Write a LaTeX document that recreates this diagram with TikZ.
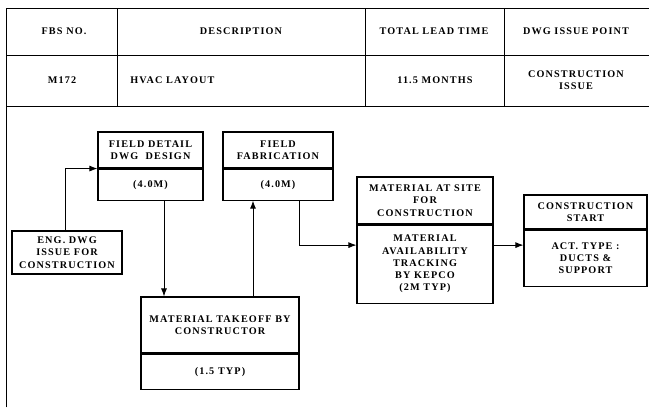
\documentclass[tikz,border=0pt]{standalone}
\usepackage{fontspec}
\setmainfont{Liberation Serif}
\newfontfamily\lblfont{Liberation Serif}[LetterSpace=11]
\usetikzlibrary{arrows.meta}

\begin{document}
\begin{tikzpicture}[x=1pt, y=-1pt, line width=0.9pt, line cap=rect,
  txt/.style={inner sep=0pt, align=center, font=\lblfont\bfseries\fontsize{10.2}{12.2}\selectfont},
  cell/.style={txt, draw, line width=1.1pt},
  arr/.style={-{Latex[length=8pt,width=6pt]}, line width=0.9pt}]

  %% ════ canvas ════
  \fill[white] (0,0) rectangle (649,410);

  %% ════ table grid ════
  \draw (6,8) -- (649,8);
  \draw (6,55) -- (649,55);
  \draw (6,106) -- (649,106);
  \draw (6,8) -- (6,407);
  \draw (117,8) -- (117,106);
  \draw (365,8) -- (365,106);
  \draw (504,8) -- (504,106);

  %% ════ table texts ════
  \node[txt] (hfbs)  at (64,31)  {FBS NO.};
  \node[txt] (hdesc) at (241,31) {DESCRIPTION};
  \node[txt] (hlead) at (434,31) {TOTAL LEAD TIME};
  \node[txt] (hdwg)  at (576,31) {DWG ISSUE POINT};
  \node[txt] (vfbs)  at (62,80)  {M172};
  \node[txt, anchor=west] (vdesc) at (130,80) {HVAC LAYOUT};
  \node[txt] (vlead) at (435,80) {11.5 MONTHS};
  \node[txt] (vdwg)  at (576,80) {CONSTRUCTION\\ISSUE};

  %% ════ activity boxes (upper part + lower part) ════
  \node[cell, minimum width=110pt, minimum height=43pt] (eng) at (67,252.5) {ENG. DWG\\ISSUE FOR\\CONSTRUCTION};

  \node[cell, minimum width=105pt, minimum height=36pt] (fdtop) at (150.5,150) {FIELD DETAIL\\DWG~~DESIGN};
  \node[cell, minimum width=105pt, minimum height=31pt, anchor=north] (fdbot) at (fdtop.south) {(4.0M)};

  \node[cell, minimum width=110pt, minimum height=36pt] (fftop) at (278,150) {FIELD\\FABRICATION};
  \node[cell, minimum width=110pt, minimum height=31pt, anchor=north] (ffbot) at (fftop.south) {(4.0M)};

  \node[cell, minimum width=158pt, minimum height=56pt] (tktop) at (220,325) {MATERIAL TAKEOFF BY\\CONSTRUCTOR};
  \node[cell, minimum width=158pt, minimum height=35pt, anchor=north] (tkbot) at (tktop.south) {(1.5 TYP)};

  \node[cell, minimum width=136pt, minimum height=47pt] (mattop) at (425,200.5) {MATERIAL AT SITE\\FOR\\CONSTRUCTION};
  \node[cell, minimum width=136pt, minimum height=78pt, anchor=north] (matbot) at (mattop.south) {MATERIAL\\AVAILABILITY\\TRACKING\\BY KEPCO\\(2M TYP)};

  \node[cell, minimum width=123pt, minimum height=34pt] (cstop) at (585.5,212) {CONSTRUCTION\\START};
  \node[cell, minimum width=123pt, minimum height=56pt, anchor=north] (csbot) at (cstop.south) {ACT. TYPE :\\DUCTS \&\\SUPPORT};

  %% ════ connectors ════
  \draw[arr] ([xshift=-2pt]eng.north) |- (fdtop.south west);
  \draw[arr] ([xshift=13.5pt]fdbot.south) -- ([xshift=13.5pt]fdbot.south |- tktop.north);
  \draw[arr] ([xshift=33pt]tktop.north) -- ([xshift=33pt]tktop.north |- ffbot.south);
  \draw[arr] ([xshift=21pt]ffbot.south) |- ([yshift=19pt]matbot.west);
  \draw[arr] ([yshift=19pt]matbot.east) -- ([yshift=19pt]matbot.east -| csbot.west);

  \pgfresetboundingbox
  \path[use as bounding box] (0,0) rectangle (649,410);
\end{tikzpicture}
\end{document}
